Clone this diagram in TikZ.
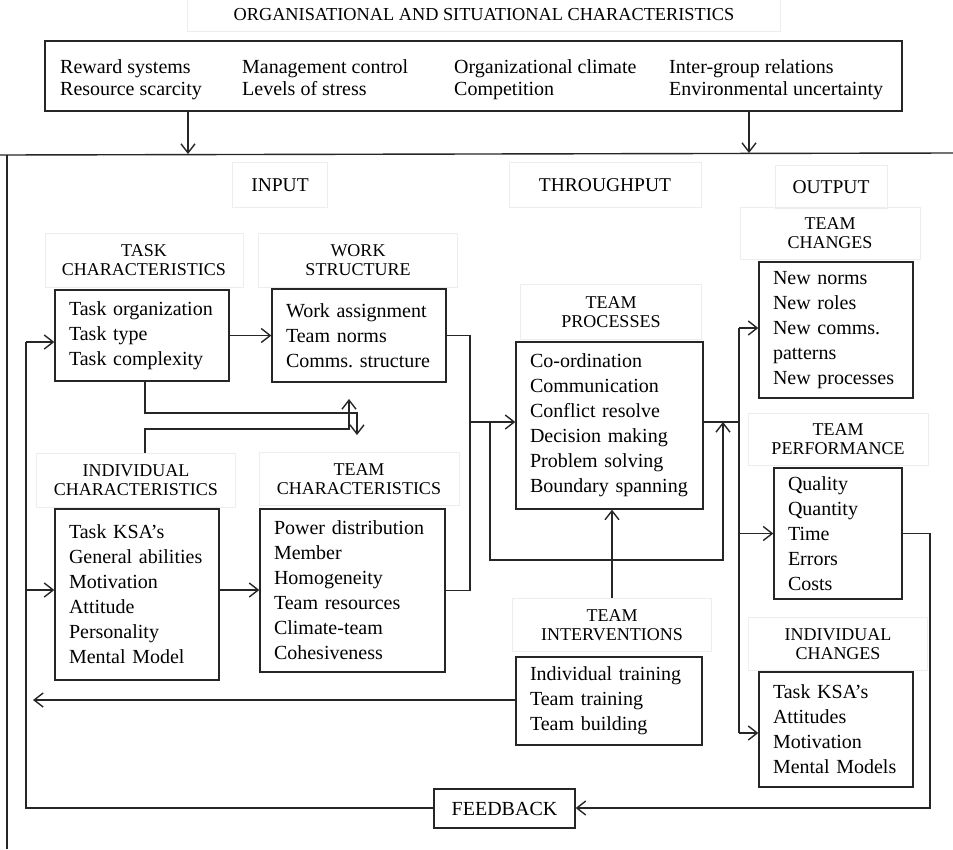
\documentclass[tikz,border=0pt]{standalone}
\usepackage{fontspec}
\setmainfont{Liberation Serif}
\usetikzlibrary{arrows.meta}
\newcommand\bodyfont{\fontsize{20}{25}\selectfont}
\newcommand\hdfont{\fontsize{18}{19.5}\selectfont}
\newcommand\titlefont{\fontsize{18.3}{19.5}\selectfont}
\newcommand\secfont{\fontsize{19.5}{21}\selectfont}
\newcommand\topfont{\fontsize{20}{22.5}\selectfont}
\begin{document}
\begin{tikzpicture}[x=1pt,y=-1pt,
  ln/.style={draw=black!85, line width=1.4pt},
  box/.style={draw=black!85, line width=1.3pt, align=left, inner xsep=14pt, inner ysep=0pt, font=\bodyfont},
  hdr/.style={draw=black!7, line width=0.6pt, align=center, inner sep=0pt, font=\hdfont},
  sec/.style={hdr, font=\secfont},
  col/.style={inner sep=0pt, anchor=base west, font=\topfont},
  arr/.style={ln, -{Straight Barb[length=9pt,width=14pt]}}]
\path[use as bounding box] (0,0) rectangle (953,849);

% title and organisational box
\node[hdr, font=\titlefont, minimum width=593pt, minimum height=32pt] (title) at (484,15) {ORGANISATIONAL AND SITUATIONAL CHARACTERISTICS};
\node[draw=black!85, line width=1.3pt, minimum width=857pt, minimum height=70pt, inner sep=0pt] (org) at (473.5,76) {};
\node[col] (c1a) at (60,73) {Reward systems};
\node[col] (c1b) at (60,95) {Resource scarcity};
\node[col] (c2a) at (242,73) {Management control};
\node[col] (c2b) at (242,95) {Levels of stress};
\node[col] (c3a) at (454,73) {Organizational climate};
\node[col] (c3b) at (454,95) {Competition};
\node[col] (c4a) at (669,73) {Inter-group relations};
\node[col] (c4b) at (669,95) {Environmental uncertainty};

% frame
\draw[ln] (0,155) -- (953,153);
\draw[ln] (7,155) -- (7,849);
\coordinate (inA) at (188,154);
\coordinate (inB) at (749,153);
\draw[arr] (org.south -| inA) -- (inA);
\draw[arr] (org.south -| inB) -- (inB);

% section headings
\node[sec, minimum width=95pt, minimum height=45pt] (inlab) at (280,185) {INPUT};
\node[sec, minimum width=192pt, minimum height=45pt] (thrulab) at (605,185) {THROUGHPUT};
\node[sec, minimum width=112pt, minimum height=43pt] (outlab) at (831,187) {OUTPUT};

% labels
\node[hdr, minimum width=198pt, minimum height=54pt] (tasklab) at (144,260) {TASK\\CHARACTERISTICS};
\node[hdr, minimum width=199pt, minimum height=54pt] (worklab) at (358,260) {WORK\\STRUCTURE};
\node[hdr, minimum width=181pt, minimum height=55pt] (proclab) at (611,312) {TEAM\\PROCESSES};
\node[hdr, minimum width=180pt, minimum height=52pt] (teamchlab) at (830,233) {TEAM\\CHANGES};
\node[hdr, minimum width=180pt, minimum height=52pt] (perflab) at (838,439) {TEAM\\PERFORMANCE};
\node[hdr, minimum width=179pt, minimum height=53pt] (indchlab) at (838,644) {INDIVIDUAL\\CHANGES};
\node[hdr, minimum width=199pt, minimum height=53pt] (intlab) at (612,625) {TEAM\\INTERVENTIONS};
\node[hdr, minimum width=199pt, minimum height=54pt] (indclab) at (136,480) {INDIVIDUAL\\CHARACTERISTICS};
\node[hdr, minimum width=200pt, minimum height=53pt] (teamclab) at (359,479) {TEAM\\CHARACTERISTICS};

% boxes
\node[box, text width=146pt, minimum height=91pt] (task) at (142,335.5) {Task organization\\Task type\\Task complexity};
\node[box, text width=146pt, minimum height=93pt] (work) at (359,335.5) {Work assignment\\Team norms\\Comms.\ structure};
\node[box, text width=136pt, minimum height=171pt] (indc) at (137,594.5) {Task KSA’s\\General abilities\\Motivation\\Attitude\\Personality\\Mental Model};
\node[box, text width=157pt, minimum height=163pt] (teamc) at (352.5,590.5) {Power distribution\\Member\\Homogeneity\\Team resources\\Climate-team\\Cohesiveness};
\node[box, text width=159pt, minimum height=167pt] (proc) at (609.5,425.5) {Co-ordination\\Communication\\Conflict resolve\\Decision making\\Problem solving\\Boundary spanning};
\node[box, text width=158pt, minimum height=88pt] (interv) at (609,701) {Individual training\\Team training\\Team building};
\node[box, text width=126pt, minimum height=136pt] (teamch) at (836,330) {New norms\\New roles\\New comms.\\patterns\\New processes};
\node[box, text width=100pt, minimum height=131pt] (perf) at (838,533.5) {Quality\\Quantity\\Time\\Errors\\Costs};
\node[box, text width=126pt, minimum height=115pt] (indch) at (836,729.5) {Task KSA’s\\Attitudes\\Motivation\\Mental Models};
\node[draw=black!85, line width=1.3pt, font=\bodyfont, minimum width=141pt, minimum height=39pt, inner sep=0pt] (fb) at (504.5,808.5) {FEEDBACK};

% input connectors
\draw[arr] (task.east) -- (work.west);
\coordinate (tk) at (145,413);
\coordinate (dn) at (357,435);
\draw[arr] (task.south -| tk) -- (tk) -| (dn);
\coordinate (ik) at (145,429);
\coordinate (up) at (349,399);
\draw[arr] (indclab.north -| ik) -- (ik) -| (up);
\coordinate (fbm) at (26,590);
\draw[arr] (indc.east |- fbm) -- (teamc.west |- fbm);

% bus to team processes
\coordinate (bus) at (470,422);
\draw[ln] (work.east) -| (bus);
\draw[ln] (teamc.east) -| (bus);
\draw[arr] (bus) -- (proc.west |- bus);

% bypass
\coordinate (bp1) at (490,422);
\coordinate (bpd) at (490,560);
\coordinate (bp2) at (723,422);
\draw[arr] (bp1) -- (bpd) -| (bp2);

% outputs
\coordinate (outbus) at (739,422);
\draw[ln] (proc.east |- outbus) -- (outbus);
\coordinate (ob1) at (739,328);
\coordinate (ob2) at (739,733);
\draw[ln] (ob1) -- (ob2);
\draw[arr] (ob1) -- (teamch.west |- ob1);
\draw[arr] (outbus |- perf.west) -- (perf.west);
\draw[arr] (ob2) -- (indch.west |- ob2);

% interventions
\draw[arr] (intlab.north) -- (proc.south -| intlab.north);
\coordinate (fbi) at (33,700);
\draw[arr] (interv.west |- fbi) -- (fbi);

% feedback loop
\coordinate (fbr) at (930,808);
\draw[arr] (perf.east) -| (fbr) -- (fb.east |- fbr);
\coordinate (fbl) at (26,808);
\coordinate (fbt) at (26,342);
\draw[ln] (fb.west |- fbl) -- (fbl) -- (fbt);
\draw[arr] (fbt) -- (task.west |- fbt);
\draw[arr] (fbm) -- (indc.west |- fbm);
\end{tikzpicture}
\end{document}
